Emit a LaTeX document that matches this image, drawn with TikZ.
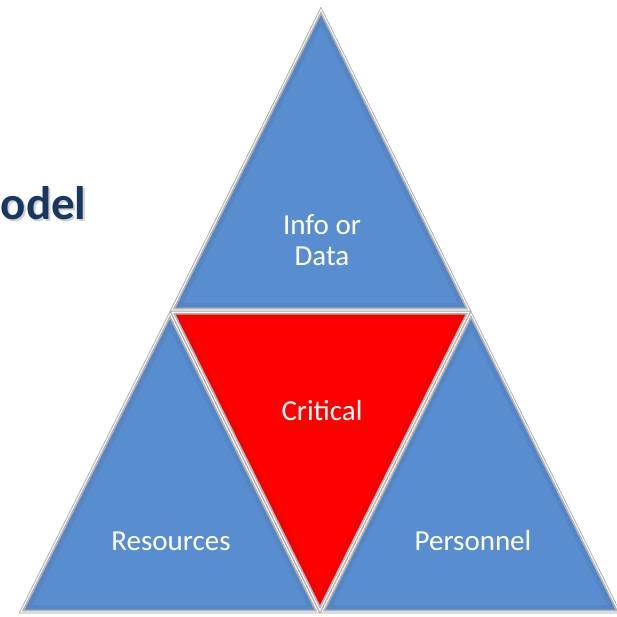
\documentclass[tikz,border=0pt]{standalone}
\usepackage{fontspec}
\setmainfont{Carlito}

\definecolor{facetblue}{RGB}{88,141,208}
\definecolor{facetred}{RGB}{255,0,0}
\definecolor{titleblue}{RGB}{24,56,98}

\begin{document}
\begin{tikzpicture}[x=1pt,y=-1pt,
    label/.style={text=white,font=\fontsize{29}{31}\selectfont,align=center},
    title/.style={text=titleblue,font=\fontsize{47}{50}\selectfont\bfseries,anchor=base east}]
    \useasboundingbox (0,0) rectangle (617,616);

    % Corner points of the big triangle and its edge midpoints
    \coordinate (top) at (321,7);
    \coordinate (ml) at (170,311);
    \coordinate (mr) at (471,311);
    \coordinate (bl) at (19,613);
    \coordinate (bm) at (320,613);
    \coordinate (br) at (621,613);

    % Draw the four facets with a bevelled rim
    \foreach \a/\b/\c/\col in {top/ml/mr/facetblue, ml/bl/bm/facetblue,
                               mr/bm/br/facetblue, ml/mr/bm/facetred} {
        \begin{scope}
            \clip (\a) -- (\b) -- (\c) -- cycle;
            \fill[\col] (\a) -- (\b) -- (\c) -- cycle;
            \draw[line width=16pt,\col!75!black,opacity=0.18] (\a) -- (\b) -- (\c) -- cycle;
            \draw[line width=7pt,gray!60] (\a) -- (\b) -- (\c) -- cycle;
            \draw[line width=3.5pt,white!92!gray] (\a) -- (\b) -- (\c) -- cycle;
            \draw[line width=1pt,gray!70] (\a) -- (\b) -- (\c) -- cycle;
        \end{scope}
    }

    % Facet labels
    \node[label] (info) at (322,240) {Info or\\Data};
    \node[label] (critical) at (322,411) {Critical};
    \node[label] (resources) at (171,541) {Resources};
    \node[label] (personnel) at (473,541) {Personnel};

    % Heading, cut off at the left edge
    \node[title,text=gray!60,opacity=0.6] (modelshadow) at (92,221) {Model};
    \node[title] (model) at (90,219) {Model};
\end{tikzpicture}
\end{document}
